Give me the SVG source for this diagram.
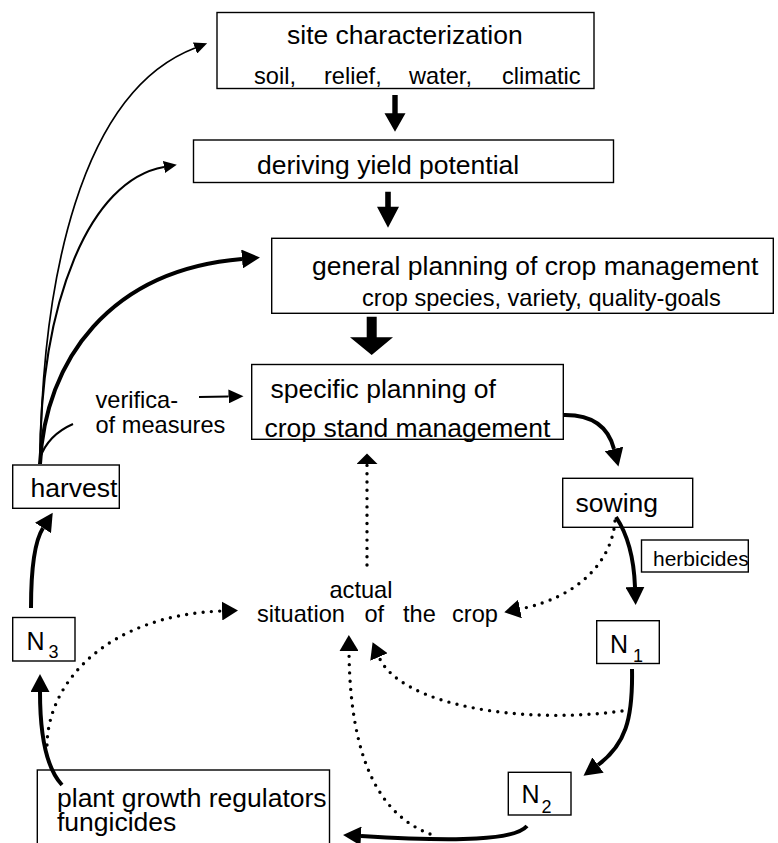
<svg xmlns="http://www.w3.org/2000/svg" width="778" height="843" viewBox="0 0 778 843">
<style>
text{font-family:"Liberation Sans",Arial,Helvetica,sans-serif;fill:#000}
.m{font-size:26.5px}
.s{font-size:23.6px}
.h{font-size:21px}
.n{font-size:25px}
.sub{font-size:18px}
.box{fill:#fff;stroke:#000;stroke-width:1.4}
.thin{fill:none;stroke:#000;stroke-width:1.7}
.med{fill:none;stroke:#000;stroke-width:2.1}
.thick{fill:none;stroke:#000;stroke-width:4}
.dot{fill:none;stroke:#000;stroke-width:3.4;stroke-linecap:round;stroke-dasharray:0 8.3}
.blk{fill:#000;stroke:none}
</style>
<defs>
<marker id="hThin" markerUnits="userSpaceOnUse" markerWidth="14" markerHeight="12" refX="0" refY="6" orient="auto"><path d="M0,0 L13,6 L0,12 Z" fill="#000"/></marker>
<marker id="hMed" markerUnits="userSpaceOnUse" markerWidth="16" markerHeight="14" refX="0" refY="7" orient="auto"><path d="M0,0 L15,7 L0,14 Z" fill="#000"/></marker>
<marker id="hThick" markerUnits="userSpaceOnUse" markerWidth="19" markerHeight="19" refX="0" refY="9.5" orient="auto"><path d="M0,0 L18,9.5 L0,19 Z" fill="#000"/></marker>
<marker id="hDot" markerUnits="userSpaceOnUse" markerWidth="17" markerHeight="19" refX="0" refY="9.5" orient="auto"><path d="M0,0 L16,9.5 L0,19 Z" fill="#000"/></marker>
<marker id="hFlat" markerUnits="userSpaceOnUse" markerWidth="11" markerHeight="21" refX="0" refY="10.5" orient="auto"><path d="M0,0 L10.5,10.5 L0,21 Z" fill="#000"/></marker>
</defs>

<g id="site">
<rect class="box" x="217" y="12.5" width="377" height="76"/>
<text class="m" x="287" y="43.5">site characterization</text>
<text class="s" y="83.5"><tspan x="254">soil,</tspan><tspan x="324">relief,</tspan><tspan x="409">water,</tspan><tspan x="502">climatic</tspan></text>
</g>

<g id="yield">
<rect class="box" x="193.5" y="140" width="420" height="42.5"/>
<text class="m" x="257" y="173.5">deriving yield potential</text>
</g>

<g id="general">
<rect class="box" x="271.7" y="238.3" width="501.6" height="75"/>
<text class="m" x="312" y="275">general planning of crop management</text>
<text class="s" x="362" y="306">crop species, variety, quality-goals</text>
</g>

<g id="specific">
<rect class="box" x="251.7" y="364.5" width="311.6" height="74.8"/>
<text class="m" x="270.5" y="398">specific planning of</text>
<text class="m" x="264.5" y="436.7">crop stand management</text>
</g>

<g id="verification">
<text class="s" x="95.5" y="408.3">verifica-</text>
<text class="s" x="95.5" y="433.3">of measures</text>
</g>

<g id="harvest">
<rect class="box" x="12.7" y="465" width="106.6" height="43.3"/>
<text class="m" x="30.5" y="496.7">harvest</text>
</g>

<g id="sowing">
<rect class="box" x="562.7" y="478.3" width="130" height="49"/>
<text class="m" x="575.5" y="511.7">sowing</text>
</g>

<g id="herbicides">
<rect class="box" x="641.5" y="540" width="106.8" height="32"/>
<text class="h" x="653" y="565.7">herbicides</text>
</g>

<g id="actual">
<text class="s" x="329.5" y="598.3">actual</text>
<text class="s" y="621.7"><tspan x="257">situation</tspan><tspan x="364.5">of</tspan><tspan x="403">the</tspan><tspan x="452">crop</tspan></text>
</g>

<g id="n1">
<rect class="box" x="596.7" y="620.7" width="62.6" height="42.8"/>
<text class="n" x="610" y="652.7">N</text>
<text class="sub" x="633" y="661.5">1</text>
</g>

<g id="n2">
<rect class="box" x="508.3" y="772.3" width="62.7" height="42.7"/>
<text class="n" x="521.5" y="803.3">N</text>
<text class="sub" x="541.5" y="813.3">2</text>
</g>

<g id="n3">
<rect class="box" x="12.7" y="617.5" width="62.3" height="43.5"/>
<text class="n" x="26.5" y="650">N</text>
<text class="sub" x="48.5" y="658.3">3</text>
</g>

<g id="pgr">
<rect class="box" x="37.3" y="770" width="292.2" height="80"/>
<text class="m" x="57" y="806.5">plant growth regulators</text>
<text class="m" x="57" y="830.5">fungicides</text>
</g>

<g id="connectors">
<path class="blk" d="M392.3,95 H397.7 V113.3 H405.5 L395,131.7 L384.5,113.3 H392.3 Z"/>
<path class="blk" d="M385.2,191.7 H390.8 V206.7 H399 L388,227.7 L377,206.7 H385.2 Z"/>
<path class="blk" d="M366.7,316.7 H376.7 V337.3 H393 L371.7,355 L350,337.3 H366.7 Z"/>
<path class="thin" d="M40,464 C42,280 80,92 195,48" marker-end="url(#hThin)"/>
<path class="med" d="M40,464 C40,300 90,180 164,167" marker-end="url(#hThin)"/>
<path class="thick" d="M40,464 C45,360 110,270 242,259" marker-end="url(#hThick)"/>
<path class="med" d="M73,424 Q48,435 40,458"/>
<path class="med" d="M199,397 L228.5,396.5" marker-end="url(#hMed)"/>
<path class="thick" d="M563,415 Q605,414 614,449" marker-end="url(#hThick)"/>
<path class="thick" d="M616,517 C628,535 634,560 635,587" marker-end="url(#hThick)"/>
<path class="thick" d="M632,669 C633,720 625,745 598,765" marker-end="url(#hThick)"/>
<path class="thick" d="M527,826 C515,840 460,842 361,836" marker-end="url(#hThick)"/>
<path class="thick" d="M62,785 C48,770 40,740 40,692" marker-end="url(#hThick)"/>
<path class="thick" d="M31,608 C31,570 34,542 43,528" marker-end="url(#hThick)"/>
<path class="dot" d="M367,565 L367,464" marker-end="url(#hFlat)"/>
<path class="dot" d="M615,521 C612,560 580,597 520,609" marker-end="url(#hDot)"/>
<path class="dot" d="M622,711 C520,725 400,705 379,657" marker-end="url(#hDot)"/>
<path class="dot" d="M430,834 C380,815 350,760 349,651" marker-end="url(#hDot)"/>
<path class="dot" d="M47,745 C48,680 110,615 222,611" marker-end="url(#hDot)"/>
</g>
</svg>
